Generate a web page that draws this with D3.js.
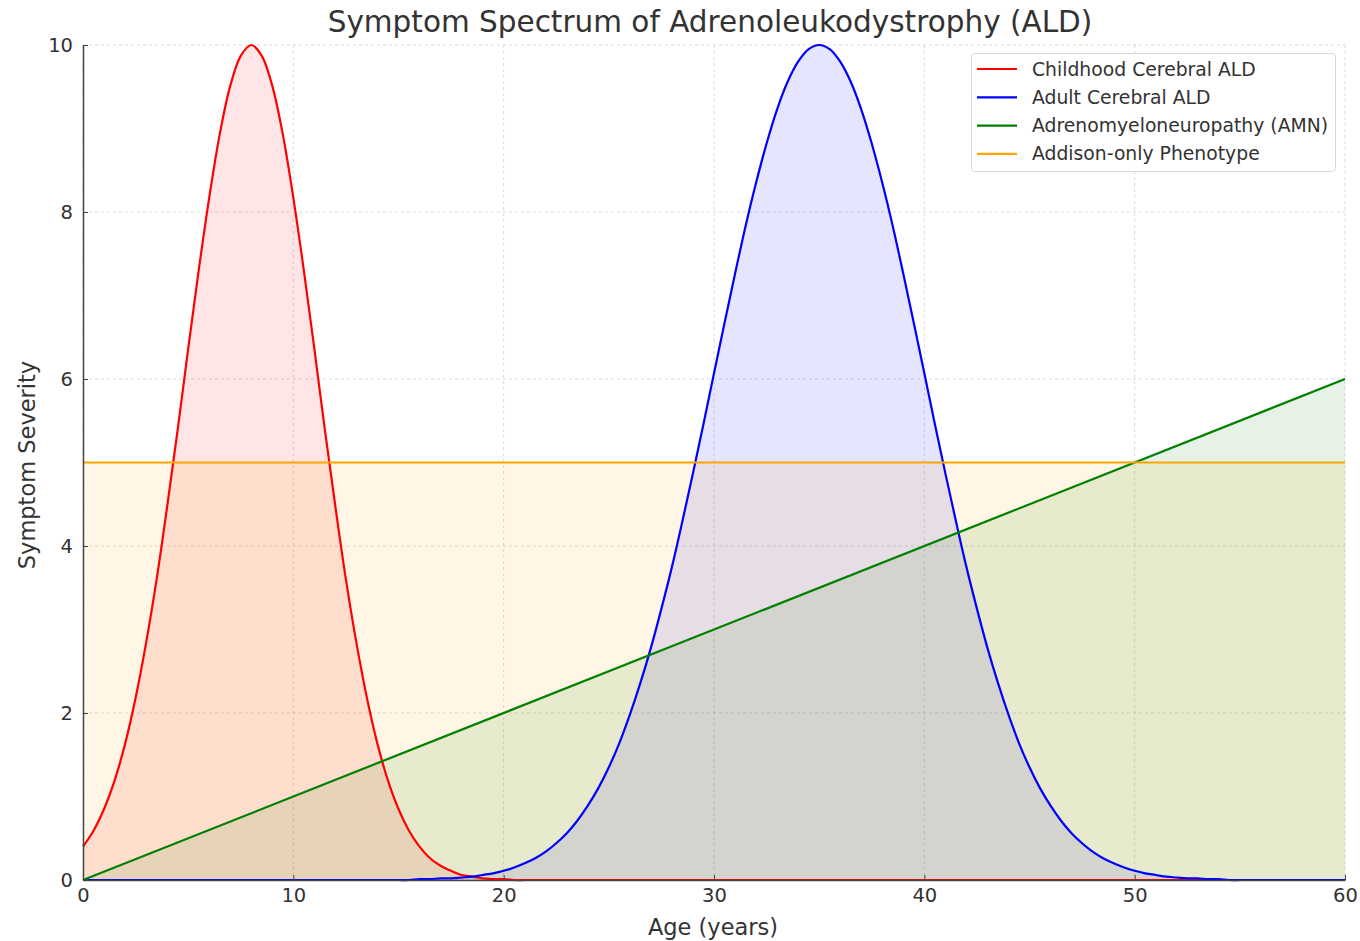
<!DOCTYPE html>
<html><head><meta charset="utf-8">
<script src="https://cdn.jsdelivr.net/npm/d3@7"></script>
<style>body{margin:0;background:#fff;} text{font-family:"DejaVu Sans",sans-serif;fill:#333;}</style>
</head><body><svg id="c" width="1360" height="941"></svg>
<script>
const ages = [0,0.5,1,1.5,2,2.5,3,3.5,4,4.5,5,5.5,6,6.5,7,7.5,8,8.5,9,9.5,10,10.5,11,11.5,12,12.5,13,13.5,14,14.5,15,15.5,16,16.5,17,17.5,18,18.5,19,19.5,20,20.5,21,21.5,22,22.5,23,23.5,24,24.5,25,25.5,26,26.5,27,27.5,28,28.5,29,29.5,30,30.5,31,31.5,32,32.5,33,33.5,34,34.5,35,35.5,36,36.5,37,37.5,38,38.5,39,39.5,40,40.5,41,41.5,42,42.5,43,43.5,44,44.5,45,45.5,46,46.5,47,47.5,48,48.5,49,49.5,50,50.5,51,51.5,52,52.5,53,53.5,54,54.5,55,55.5,56,56.5,57,57.5,58,58.5,59,59.5,60];
const childhood = [0.40,0.59,0.85,1.19,1.63,2.18,2.84,3.60,4.47,5.39,6.36,7.30,8.17,8.93,9.51,9.87,10,9.87,9.51,8.93,8.17,7.30,6.36,5.39,4.47,3.60,2.84,2.18,1.63,1.19,0.85,0.59,0.40,0.26,0.17,0.11,0.06,0.04,0.02,0.01,0.01,
  0,0,0,0,0,0,0,0,0,0,0,0,0,0,0,0,0,0,0,0,0,0,0,0,0,0,0,0,0,0,0,0,0,0,0,0,0,0,0,0,0,0,0,0,0,0,0,0,0,0,0,0,0,0,0,0,0,0,0,0,0,0,0,0,0,0,0,0,0,0,0,0,0,0,0,0,0,0,0,0];
const adult = [0,0,0,0,0,0,0,0,0,0,0,0,0,0,0,0,0,0,0,0,0,0,0,0,0,0,0,0,0,0,0,0,
  0.01,0.01,0.02,0.02,0.03,0.04,0.06,0.08,0.11,0.15,0.20,0.26,0.34,0.44,0.56,0.71,0.89,1.10,1.35,1.64,1.98,2.36,2.78,3.25,3.75,4.30,4.87,5.46,6.07,6.67,7.26,7.83,8.35,8.82,9.23,9.56,9.80,9.95,10,
  9.95,9.80,9.56,9.23,8.82,8.35,7.83,7.26,6.67,6.07,5.46,4.87,4.30,3.75,3.25,2.78,2.36,1.98,1.64,1.35,1.10,0.89,0.71,0.56,0.44,0.34,0.26,0.20,0.15,0.11,0.08,0.06,0.04,0.03,0.02,0.02,0.01,0.01,
  0,0,0,0,0,0,0,0,0,0,0,0];
const amnAges = [0, 60];
const amn = [0, 6];
const addisonAges = [0, 60];
const addison = [5, 5];
const seriesNames = ["Childhood Cerebral ALD","Adult Cerebral ALD","Adrenomyeloneuropathy (AMN)","Addison-only Phenotype"];
const seriesColors = ["#ff0000","#0000ff","#008000","#ffa500"];
const xTicks = [0,10,20,30,40,50,60];
const yTicks = [0,2,4,6,8,10];

const svg = d3.select("#c");
const L=83,R=1345,T=45,B=880;
const x = d3.scaleLinear().domain([0,60]).range([L,R]);
const y = d3.scaleLinear().domain([0,10]).range([B,T]);

// grid
const g = svg.append("g");
g.selectAll(".vx").data(xTicks).join("line").attr("x1",d=>x(d)).attr("x2",d=>x(d)).attr("y1",T).attr("y2",B)
  .attr("stroke","#d0d0d0").attr("stroke-width",0.8).attr("stroke-dasharray","3,3");
g.selectAll(".hy").data(yTicks).join("line").attr("y1",d=>y(d)).attr("y2",d=>y(d)).attr("x1",L).attr("x2",R)
  .attr("stroke","#d0d0d0").attr("stroke-width",0.8).attr("stroke-dasharray","3,3");

const series = [
  {xs:ages, ys:childhood},
  {xs:ages, ys:adult},
  {xs:amnAges, ys:amn},
  {xs:addisonAges, ys:addison}
].map((s,i)=>({pts:s.xs.map((a,j)=>[a,s.ys[j]]), color:seriesColors[i], name:seriesNames[i]}));

const area = d3.area().x(d=>x(d[0])).y0(y(0)).y1(d=>y(d[1])).curve(d3.curveCatmullRom.alpha(0.5));
const line = d3.line().x(d=>x(d[0])).y(d=>y(d[1])).curve(d3.curveCatmullRom.alpha(0.5));

series.forEach(s=>{
  svg.append("path").attr("d",area(s.pts)).attr("fill",s.color).attr("fill-opacity",0.1);
});
series.forEach(s=>{
  svg.append("path").attr("d",line(s.pts)).attr("fill","none").attr("stroke",s.color).attr("stroke-width",2.2);
});

// axes
const xa = svg.append("g").attr("transform",`translate(0,${B})`)
  .call(d3.axisBottom(x).tickValues(xTicks).tickSizeInner(-5).tickSizeOuter(0).tickPadding(8).tickFormat(d3.format("d")));
const ya = svg.append("g").attr("transform",`translate(${L},0)`)
  .call(d3.axisLeft(y).tickValues(yTicks).tickSizeInner(-5).tickSizeOuter(0).tickPadding(10).tickFormat(d3.format("d")));
[xa,ya].forEach(a=>{
  a.select(".domain").attr("stroke","#444").attr("stroke-width",1.5);
  a.selectAll(".tick line").attr("stroke","#444");
  a.selectAll(".tick text").attr("font-size",19.5).attr("fill","#333").style("font-family","DejaVu Sans");
});

svg.append("text").attr("x",710).attr("y",32).attr("text-anchor","middle").attr("font-size",29.5).text("Symptom Spectrum of Adrenoleukodystrophy (ALD)");
svg.append("text").attr("x",713).attr("y",935).attr("text-anchor","middle").attr("font-size",22.5).text("Age (years)");
svg.append("text").attr("transform","translate(35,465) rotate(-90)").attr("text-anchor","middle").attr("font-size",22.5).text("Symptom Severity");

// legend
const lg = svg.append("g");
lg.append("rect").attr("x",971.5).attr("y",53.5).attr("width",364).attr("height",118).attr("rx",3)
  .attr("fill","#fff").attr("fill-opacity",0.85).attr("stroke","#d8d8d8");
series.forEach((s,i)=>{
  const yy = 69 + i*28.3;
  lg.append("line").attr("x1",977).attr("x2",1017).attr("y1",yy).attr("y2",yy).attr("stroke",s.color).attr("stroke-width",2.2);
  lg.append("text").attr("x",1032).attr("y",yy+6.5).attr("font-size",18.8).text(s.name);
});
</script></body></html>
